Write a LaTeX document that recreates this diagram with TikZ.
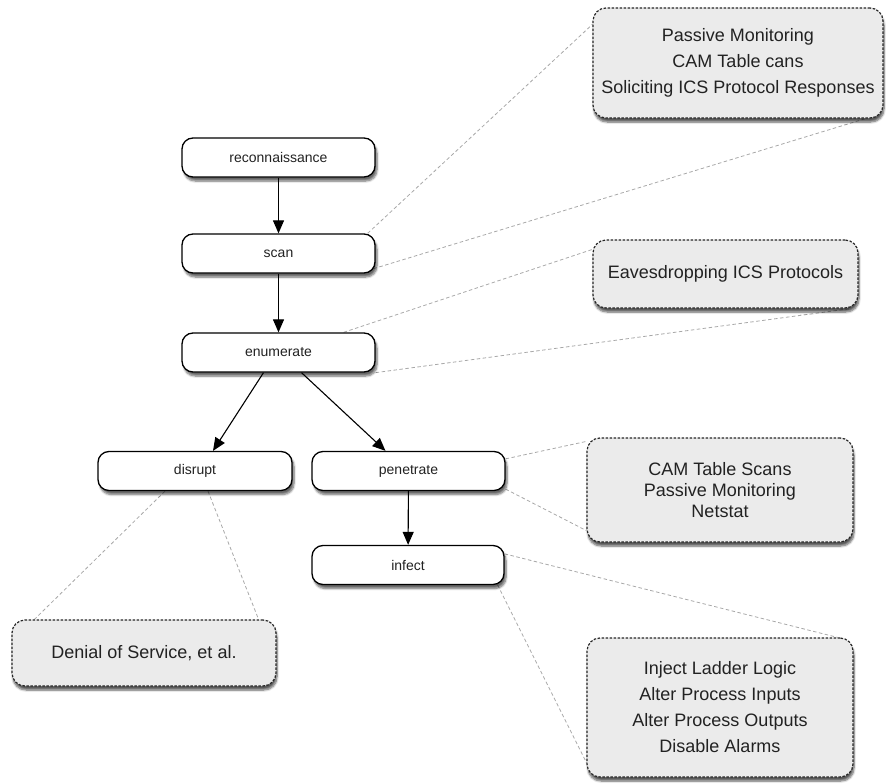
\documentclass[tikz,border=0pt]{standalone}
\usepackage{fontspec}
\setmainfont{Liberation Sans}
\usepackage{xcolor}
\usepackage{tikz}
\usetikzlibrary{arrows.meta, shadows, shadows.blur, backgrounds}
\definecolor{notegray}{HTML}{EBEBEB}
\definecolor{linkgray}{HTML}{A8A8A8}
\definecolor{inkdark}{HTML}{222222}
\tikzset{
  >=latex,
  % Fasi dell'attacco
  phase/.style={draw=black,line width=1.3pt,fill=white,rounded corners=11pt,
    minimum width=193pt,minimum height=39pt,inner sep=0pt,text=inkdark,
    font=\fontsize{14}{16}\selectfont,
    blur shadow={shadow xshift=2pt,shadow yshift=-4pt,shadow blur steps=6,shadow opacity=60}},
  % Riquadri di note
  note box/.style={draw=black!85,line width=1.2pt,dash pattern=on 2.5pt off 1.5pt,
    fill=notegray,rounded corners=13pt,inner sep=0pt,align=center,text=inkdark,
    font=\fontsize{18}{26}\selectfont,
    blur shadow={shadow xshift=1pt,shadow yshift=-4pt,shadow blur steps=6,shadow opacity=65}},
  % Connessioni
  connect/.style={linkgray,line width=0.8pt,dash pattern=on 3.5pt off 2.5pt},
  connect arrow/.style={-{Triangle[length=13pt,width=11pt]},line width=1.1pt,black}
}
\begin{document}
\begin{tikzpicture}[x=1pt,y=-1pt]
  \useasboundingbox (0,0) rectangle (886,784);
  \node[phase] (recon) at (278.5,157.5) {reconnaissance};
  \node[phase] (scan) at (278.5,253.5) {scan};
  \node[phase] (enum) at (278.5,352.5) {enumerate};
  \node[phase,minimum width=194pt] (disrupt) at (195,471) {disrupt};
  \node[phase] (pen) at (408.5,471) {penetrate};
  \node[phase,minimum width=192pt] (infect) at (408,565) {infect};

  \node[note box,minimum width=290pt,minimum height=110pt] (survey) at (738,63)
    {Passive Monitoring\\CAM Table cans\\Soliciting ICS Protocol Responses};
  \node[note box,minimum width=265pt,minimum height=68pt] (eaves) at (725.5,274)
    {Eavesdropping ICS Protocols};
  \node[note box,minimum width=266pt,minimum height=104pt,font=\fontsize{18}{21}\selectfont]
    (lateral) at (720,490) {CAM Table Scans\\Passive Monitoring\\Netstat};
  \node[note box,minimum width=266pt,minimum height=139pt] (payload) at (720,707.5)
    {Inject Ladder Logic\\Alter Process Inputs\\Alter Process Outputs\\Disable Alarms};
  \node[note box,minimum width=264pt,minimum height=66pt] (dos) at (144,653)
    {Denial of Service, et al.};

  \begin{scope}[on background layer]
    \draw[connect] ([xshift=-8pt]scan.north east) -- ([yshift=-17pt]survey.north west);
    \draw[connect] ([xshift=-2pt,yshift=5pt]scan.south east) -- ([xshift=-18pt]survey.south east);
    \draw[connect] ([xshift=-32pt]enum.north east) -- ([yshift=-10pt]eaves.north west);
    \draw[connect] (enum.south east) -- ([xshift=-8pt]eaves.south east);
    \draw[connect] ([yshift=-8pt]pen.north east) -- ([yshift=-4pt]lateral.north west);
    \draw[connect] ([yshift=2pt]pen.south east) -- ([yshift=12pt]lateral.south west);
    \draw[connect] ([yshift=-9pt]infect.north east) -- ([xshift=-16pt]payload.north east);
    \draw[connect] ([xshift=-7pt]infect.south east) -- ([yshift=15pt]payload.south west);
    \draw[connect] ([xshift=-30pt]disrupt.south) -- ([xshift=23pt]dos.north west);
    \draw[connect] ([xshift=13pt]disrupt.south) -- ([xshift=-18pt]dos.north east);
  \end{scope}

  \draw[connect arrow] (recon) -- (scan);
  \draw[connect arrow] (scan) -- (enum);
  \draw[connect arrow] ([xshift=-15pt]enum.south) -- ([xshift=18pt]disrupt.north);
  \draw[connect arrow] ([xshift=23pt]enum.south) -- ([xshift=-23pt]pen.north);
  \draw[connect arrow] (pen) -- (infect);
\end{tikzpicture}
\end{document}
